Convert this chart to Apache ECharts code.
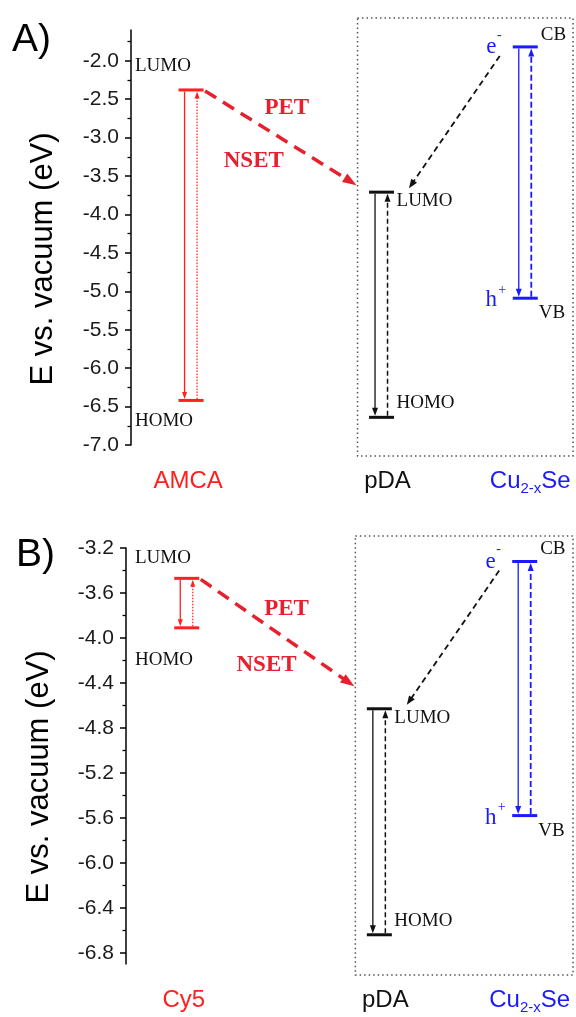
<!DOCTYPE html>
<html>
<head>
<meta charset="utf-8">
<script src="https://cdn.jsdelivr.net/npm/echarts@6/dist/echarts.min.js"></script>
<style>
html, body { margin: 0; padding: 0; background: #fff; }
#chart { width: 576px; height: 1017px; }
</style>
</head>
<body>
<div id="chart"></div>
<script>
// panel A: AMCA -> pDA <- Cu2-xSe
var speciesA = ["AMCA", "pDA", "Cu2-xSe"];
var upperA = [-2.38, -3.71, -1.82];   // LUMO / CB
var lowerA = [-6.42, -6.64, -5.09];   // HOMO / VB
var petEndA = -3.62;
var ticksA = [-7.0, -6.5, -6.0, -5.5, -5.0, -4.5, -4.0, -3.5, -3.0, -2.5, -2.0];
var minorA = [-6.75, -6.25, -5.75, -5.25, -4.75, -4.25, -3.75, -3.25, -2.75, -2.25, -1.75];

// panel B: Cy5 -> pDA <- Cu2-xSe
var speciesB = ["Cy5", "pDA", "Cu2-xSe"];
var upperB = [-3.47, -4.63, -3.32];
var lowerB = [-3.91, -6.64, -5.58];
var petEndB = -4.43;
var ticksB = [-6.8, -6.4, -6.0, -5.6, -5.2, -4.8, -4.4, -4.0, -3.6, -3.2];
var minorB = [-6.6, -6.2, -5.8, -5.4, -5.0, -4.6, -4.2, -3.8, -3.4];

var levelNames = [["LUMO", "HOMO"], ["LUMO", "HOMO"], ["CB", "VB"]];

// horizontal slot of each species on the hidden 0..100 x axis
var slotX = [13.5, 56.3, 88.6];

var RED = "#ff2020", PETRED = "#e8202e", BLUE = "#1a1aff", BLACK = "#111";
var SANS = '"Liberation Sans", Arial, sans-serif';
var SERIF = '"Liberation Serif", "Times New Roman", serif';

var panels = [
    { grid: 0, species: speciesA, upper: upperA, lower: lowerA, petEnd: petEndA,
      min: -7.0, max: -1.6, ticks: ticksA, minor: minorA,
      dyeLabelX: 4, dyeDy: [-24, 21], petDy: [6, -30], nsetDy: [-27, 23] },
    { grid: 1, species: speciesB, upper: upperB, lower: lowerB, petEnd: petEndB,
      min: -6.9, max: -3.2, ticks: ticksB, minor: minorB,
      dyeLabelX: 9, dyeDy: [-20, 32], petDy: [9, -24], nsetDy: [-11, 32] }
];

var measureCtx = document.createElement("canvas").getContext("2d");
function textWidth(txt, font) {
    measureCtx.font = font;
    return measureCtx.measureText(txt).width;
}

function txt(x, y, s, font, color, align) {
    return {
        type: "text",
        style: {
            x: x, y: y, text: s, font: font, fill: color,
            align: align || "center", verticalAlign: "middle",
            textAlign: align || "center", textVerticalAlign: "middle"
        }
    };
}

function seg(x1, y1, x2, y2, color, width, dash) {
    return {
        type: "line",
        shape: { x1: x1, y1: y1, x2: x2, y2: y2 },
        style: { stroke: color, lineWidth: width, lineDash: dash || null }
    };
}

function arrow(x1, y1, x2, y2, color, width, dash, headLen, headW) {
    var dx = x2 - x1, dy = y2 - y1;
    var len = Math.sqrt(dx * dx + dy * dy);
    var ux = dx / len, uy = dy / len;
    var bx = x2 - ux * headLen, by = y2 - uy * headLen;
    var nx = -uy * headW / 2, ny = ux * headW / 2;
    return [
        seg(x1, y1, bx + ux, by + uy, color, width, dash),
        {
            type: "polygon",
            shape: { points: [[x2, y2], [bx + nx, by + ny], [bx - nx, by - ny]] },
            style: { fill: color }
        }
    ];
}

function makeRender(p) {
    return function (params, api) {
        var i = params.dataIndex;
        var up = api.coord([slotX[i], p.upper[i]]);
        var lo = api.coord([slotX[i], p.lower[i]]);
        var cx = up[0], yU = up[1], yL = lo[1];
        var axisX = api.coord([0, p.min])[0];
        var yTop = api.coord([0, p.max])[1];
        var yBot = api.coord([0, p.min])[1];
        var kids = [];
        var color, dash2, w2, head;
        if (i === 0) { color = RED; dash2 = [1.5, 1.5]; w2 = 1.2; head = [7, 5]; }
        else if (i === 1) { color = BLACK; dash2 = [5, 3]; w2 = 1.5; head = [8, 6]; }
        else { color = BLUE; dash2 = [6, 3]; w2 = 1.8; head = [8, 6]; }

        // level bars
        kids.push(seg(cx - 12.5, yU, cx + 12.5, yU, color, 3));
        kids.push(seg(cx - 12.5, yL, cx + 12.5, yL, color, 3));
        // excitation (down) and relaxation (up) arrows
        kids = kids.concat(arrow(cx - 6.5, yU + 1.5, cx - 6.5, yL - 1.5, color, 1.3, null, head[0], head[1]));
        kids = kids.concat(arrow(cx + 6, yL - 1.5, cx + 6, yU + 1.5, color, w2, dash2, head[0], head[1]));

        var serif19 = "19px " + SERIF;
        var catFont = "24px " + SANS;
        if (i === 0) {
            kids.push(txt(axisX + p.dyeLabelX, yU + p.dyeDy[0], "LUMO", serif19, BLACK, "left"));
            kids.push(txt(axisX + p.dyeLabelX, yL + p.dyeDy[1], "HOMO", serif19, BLACK, "left"));
            kids.push(txt(cx - 3, yBot + 36, p.species[0], catFont, RED));

            // PET / NSET transfer arrow into the pDA box
            var boxLeft = api.coord([slotX[1], p.upper[1]])[0] - 25;
            var yEnd = api.coord([slotX[1], p.petEnd])[1];
            var sx = cx + 14, sy = yU + 1;
            kids = kids.concat(arrow(sx, sy, boxLeft, yEnd, PETRED, 3.5, [13, 8], 14, 10));
            var mx = (sx + boxLeft) / 2, my = (sy + yEnd) / 2;
            var bold = "bold 23px " + SERIF;
            kids.push(txt(mx + p.petDy[0], my + p.petDy[1], "PET", bold, PETRED));
            kids.push(txt(mx + p.nsetDy[0], my + p.nsetDy[1], "NSET", bold, PETRED));
        } else if (i === 1) {
            kids.push(txt(cx + 15, yU + 9, levelNames[1][0], serif19, BLACK, "left"));
            kids.push(txt(cx + 15, yL - 14, levelNames[1][1], serif19, BLACK, "left"));
            kids.push(txt(cx + 6, yBot + 36, p.species[1], catFont, BLACK));
            // dotted frame around the acceptor pair
            kids.push({
                type: "rect",
                shape: { x: cx - 24, y: yTop - 12, width: 573 - (cx - 24), height: (yBot + 11) - (yTop - 12) },
                style: { fill: null, stroke: "#555", lineWidth: 1.5, lineDash: [1.5, 3] }
            });
        } else {
            kids.push(txt(cx + 15.5, yU - 12, levelNames[2][0], serif19, BLACK, "left"));
            kids.push(txt(cx + 13.5, yL + 15, levelNames[2][1], serif19, BLACK, "left"));
            // electron / hole
            var ex = cx - 34;
            kids.push(txt(ex, yU, "e", "23px " + SERIF, BLUE));
            kids.push(txt(ex + 8, yU - 12, "-", "14px " + SERIF, BLUE));
            kids.push(txt(ex, yL + 2, "h", "23px " + SERIF, BLUE));
            kids.push(txt(ex + 11, yL - 8, "+", "14px " + SERIF, BLUE));
            // electron transfer into pDA LUMO
            var pd = api.coord([slotX[1], p.upper[1]]);
            kids = kids.concat(arrow(cx - 25.5, yU + 9, pd[0] + 27.5, pd[1] - 4, BLACK, 1.8, [6, 4], 9, 7));
            // Cu2-xSe with subscript
            var big = catFont, small = "15px " + SANS;
            var w1 = textWidth("Cu", big), w2s = textWidth("2-x", small), w3 = textWidth("Se", big);
            var x0 = cx + 5 - (w1 + w2s + w3) / 2, yc = yBot + 36;
            kids.push(txt(x0, yc, "Cu", big, BLUE, "left"));
            kids.push(txt(x0 + w1, yc + 8, "2-x", small, BLUE, "left"));
            kids.push(txt(x0 + w1 + w2s, yc, "Se", big, BLUE, "left"));
        }
        return { type: "group", children: kids };
    };
}

var grids = [
    { left: 131, right: 0, top: 30, height: 415, outerBoundsMode: "none" },
    { left: 126, right: 0, top: 548, height: 416, outerBoundsMode: "none" }
];

var xAxes = [], yAxes = [], series = [];
panels.forEach(function (p) {
    xAxes.push({ gridIndex: p.grid, type: "value", min: 0, max: 100, show: false });
    yAxes.push({
        gridIndex: p.grid, type: "value", position: "left", min: p.min, max: p.max,
        axisLine: { show: true, lineStyle: { color: "#000", width: 1.5 } },
        axisTick: { show: true, customValues: p.ticks, length: 6, lineStyle: { color: "#000", width: 1.5 } },
        axisLabel: {
            customValues: p.ticks, margin: 12, color: "#1a1a1a", fontSize: 21, fontFamily: SANS,
            formatter: function (v) { return v.toFixed(1); }
        },
        splitLine: { show: false }
    });
    yAxes.push({
        gridIndex: p.grid, type: "value", position: "left", offset: 0, min: p.min, max: p.max,
        axisLine: { show: false },
        axisTick: { show: true, customValues: p.minor, length: 3.5, lineStyle: { color: "#000", width: 1.3 } },
        axisLabel: { show: false },
        splitLine: { show: false }
    });
    series.push({
        type: "custom",
        xAxisIndex: p.grid,
        yAxisIndex: p.grid * 2,
        clip: false,
        silent: true,
        renderItem: makeRender(p),
        data: p.species.map(function (s, i) { return [slotX[i], p.upper[i], p.lower[i]]; })
    });
});

var chart = echarts.init(document.getElementById("chart"), null, { renderer: "canvas" });
chart.setOption({
    animation: false,
    backgroundColor: "#fff",
    grid: grids,
    xAxis: xAxes,
    yAxis: yAxes,
    series: series,
    graphic: [
        { type: "text", x: 12, y: 40, style: { text: "A)", font: "39px " + SANS, fill: "#000", textVerticalAlign: "middle", verticalAlign: "middle" } },
        { type: "text", x: 16, y: 555, style: { text: "B)", font: "39px " + SANS, fill: "#000", textVerticalAlign: "middle", verticalAlign: "middle" } },
        { type: "text", x: 43, y: 259, rotation: Math.PI / 2,
          style: { text: "E vs. vacuum (eV)", font: "31px " + SANS, fill: "#000", align: "center", textAlign: "center", verticalAlign: "middle", textVerticalAlign: "middle" } },
        { type: "text", x: 39, y: 777, rotation: Math.PI / 2,
          style: { text: "E vs. vacuum (eV)", font: "31px " + SANS, fill: "#000", align: "center", textAlign: "center", verticalAlign: "middle", textVerticalAlign: "middle" } }
    ]
});
</script>
</body>
</html>
